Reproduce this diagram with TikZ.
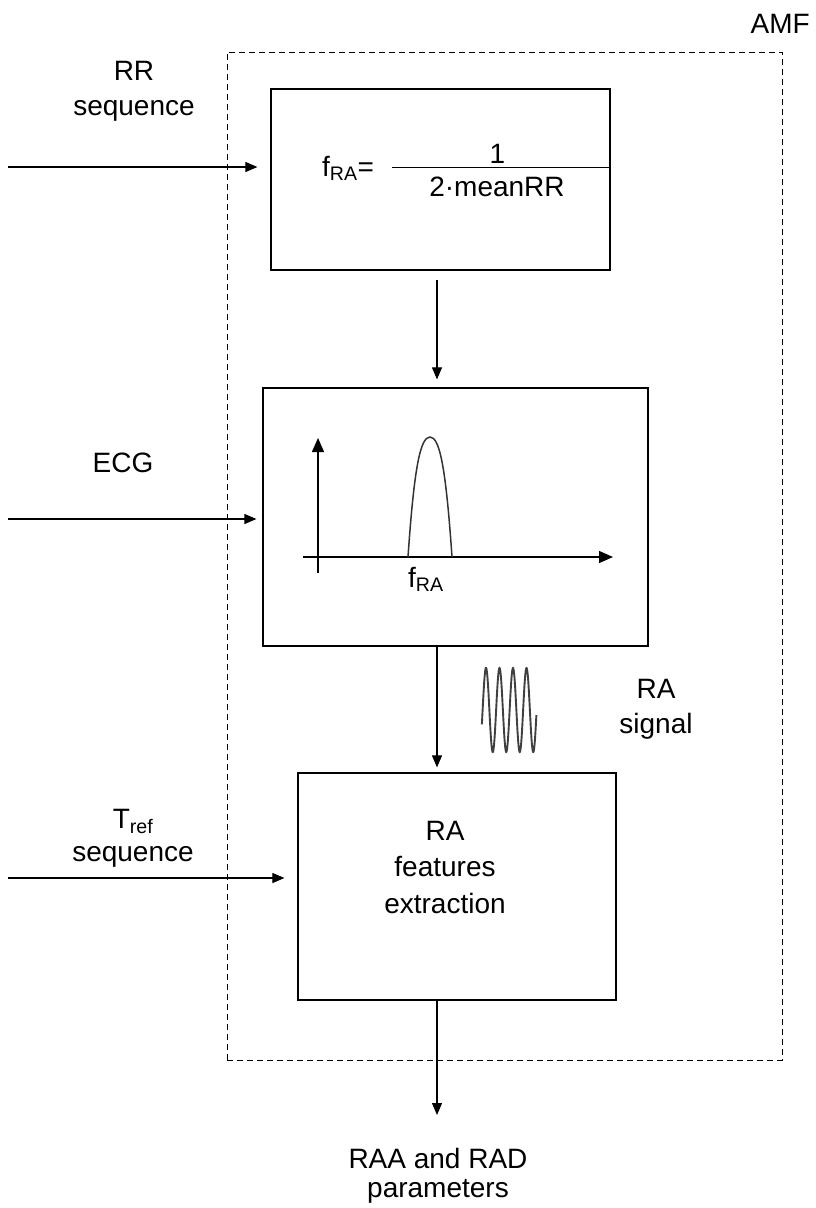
\documentclass[tikz,border=0pt]{standalone}
\usepackage{fontspec}
\setmainfont{Liberation Sans}
\usetikzlibrary{arrows.meta,calc}
\begin{document}
\begin{tikzpicture}[x=1pt,y=-1pt,
  blk/.style={draw,line width=1.2pt,inner sep=0pt},
  lbl/.style={align=center,font=\fontsize{28}{35}\selectfont,inner sep=0pt,anchor=base},
  arr/.style={line width=1.1pt,-{Triangle[length=12pt,width=10pt]}},
  axarr/.style={line width=1.3pt,-{Triangle[length=14pt,width=12pt]}},
  amf/.style={draw,line width=1pt,dash pattern=on 6pt off 4pt,inner sep=0pt}]
\useasboundingbox (0,0) rectangle (816,1208);
% frame
\node[amf,minimum width=555pt,minimum height=1008pt] (amfbox) at (504.5,556) {};
\node[lbl,anchor=base east] (amflbl) at (810,33) {AMF};
% boxes
\node[blk,minimum width=339pt,minimum height=181pt] (box1) at (440.5,179.5) {};
\node[blk,minimum width=385pt,minimum height=258pt] (box2) at (455.5,517) {};
\node[blk,minimum width=318pt,minimum height=227pt] (box3) at (457,886.5) {};
% formula
\node[lbl,anchor=base west] (flhs) at (322,176) {f\textsubscript{RA}=};
\node[lbl] (fnum) at (497.5,163) {1};
\node[lbl] (fden) at (497,196) {2·meanRR};
\coordinate (fl1) at (392,167.5);
\draw[line width=1.1pt] (fl1) -- (fl1 -| box1.east);
% box3 text (anchor = last baseline)
\node[lbl,font=\fontsize{28}{36.5}\selectfont] (box3txt) at (445,913) {RA\\features\\extraction};
% input labels
\node[lbl] (rrlbl) at (134,115) {RR\\sequence};
\node[lbl] (ecglbl) at (123,472) {ECG};
\node[lbl,font=\fontsize{28}{33}\selectfont] (treflbl) at (133,861) {T\textsubscript{ref}\\sequence};
\node[lbl] (ralbl) at (656,733) {RA\\signal};
\node[lbl,font=\fontsize{28}{29}\selectfont] (outlbl) at (438,1197) {RAA and RAD\\parameters};
% input arrows
\coordinate (inRR) at (8,167);
\coordinate (inECG) at (8,519);
\coordinate (inT) at (8,878);
\draw[arr,shorten >=13pt] (inRR) -- (inRR -| box1.west);
\draw[arr,shorten >=6pt] (inECG) -- (inECG -| box2.west);
\draw[arr,shorten >=13pt] (inT) -- (inT -| box3.west);
% vertical arrows
\coordinate (v1) at (437,280);
\draw[arr,shorten >=8pt] (v1) -- (v1 |- box2.north);
\coordinate (v2) at (437,646);
\draw[arr,shorten >=5pt] (v2) -- (v2 |- box3.north);
\coordinate (v3) at (437,1000);
\coordinate (v3e) at (437,1115);
\draw[arr] (v3) -- (v3e);
% spectrum plot
\coordinate (yax0) at (318,573);
\coordinate (yax1) at (318,438);
\coordinate (xax0) at (303,557);
\coordinate (xax1) at (613,557);
\draw[axarr] (yax0) -- (yax1);
\draw[axarr] (xax0) -- (xax1);
\draw[line width=1.5pt,black!80] (408,557) .. controls (414,470) and (420,437) .. (430,437)
  .. controls (440,437) and (446,470) .. (452,557);
\node[lbl,anchor=base west] (fralbl) at (408,587) {f\textsubscript{RA}};
% RA signal wave
\draw[line width=1.9pt,black!75,smooth,samples=220,domain=-20:1433,variable=\p]
  plot ({486+(\p-90)*0.0375},{710-42*sin(\p)});
\end{tikzpicture}
\end{document}
